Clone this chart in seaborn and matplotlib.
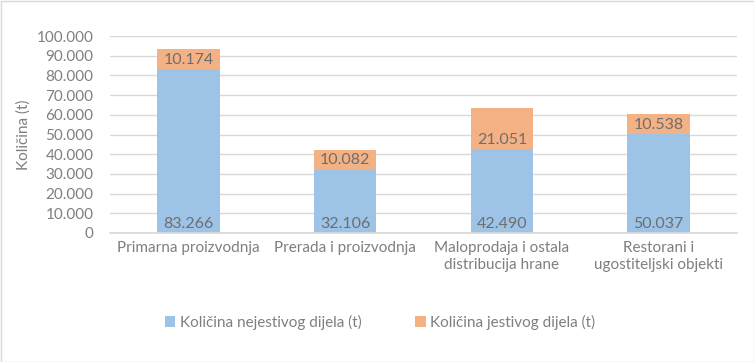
import matplotlib
matplotlib.use("Agg")
import matplotlib.pyplot as plt
import seaborn as sns
import pandas as pd
from matplotlib.patches import Rectangle
from matplotlib.ticker import FuncFormatter

categories = ["Primarna proizvodnja", "Prerada i proizvodnja",
              "Maloprodaja i ostala\ndistribucija hrane",
              "Restorani i\nugostiteljski objekti"]
nejestivo = [83266, 32106, 42490, 50037]
jestivo = [10174, 10082, 21051, 10538]
series_names = ["Količina nejestivog dijela (t)", "Količina jestivog dijela (t)"]

blue = "#9DC3E6"
orange = "#F4B183"
text_gray = "#7F7F7F"

sns.set_theme(style="white")
plt.rcParams["font.family"] = ["Lato", "DejaVu Sans"]

df = pd.DataFrame({"kat": categories, "nej": nejestivo, "jes": jestivo})
df["total"] = df["nej"] + df["jes"]

fig = plt.figure(figsize=(7.54, 3.62), dpi=100)
ax = fig.add_axes([110 / 754, 1 - 233 / 362, 627 / 754, 197 / 362])

# stacked: full total in orange first, blue bottom part drawn over it
sns.barplot(data=df, x="kat", y="total", color=orange, width=0.4,
            saturation=1, ax=ax, label=series_names[1], linewidth=0)
sns.barplot(data=df, x="kat", y="nej", color=blue, width=0.4,
            saturation=1, ax=ax, label=series_names[0], linewidth=0)

def fmt(v):
    return f"{int(v):,}".replace(",", ".")

for i, (n, j) in enumerate(zip(nejestivo, jestivo)):
    ax.text(i, 1200, fmt(n), ha="center", va="bottom", fontsize=11.5, color="#6E6E6E")
    ax.text(i, n + 1200, fmt(j), ha="center", va="bottom", fontsize=11.5, color="#6E6E6E")

ax.set_ylim(0, 100000)
ax.set_yticks(range(0, 100001, 10000))
ax.yaxis.set_major_formatter(FuncFormatter(lambda v, p: fmt(v)))
ax.grid(axis="y", color="#D9D9D9", linewidth=1)
ax.set_axisbelow(True)
for s in ["top", "right", "left"]:
    ax.spines[s].set_visible(False)
ax.spines["bottom"].set_color("#D9D9D9")
ax.tick_params(axis="both", length=0, labelsize=11, colors=text_gray, pad=6)
ax.tick_params(axis="y", pad=12)
ax.set_xlabel("")
ax.set_ylabel("Količina (t)", color=text_gray, fontsize=11)
ax.yaxis.set_label_coords(-0.127, 0.5)

handles, labels = ax.get_legend_handles_labels()
if ax.get_legend() is not None:
    ax.get_legend().remove()
order = [labels.index(series_names[0]), labels.index(series_names[1])]
fig.legend([handles[k] for k in order], [labels[k] for k in order],
           loc="center", bbox_to_anchor=(380 / 754, 1 - 322 / 362), ncol=2,
           frameon=False, fontsize=11, labelcolor=text_gray,
           handlelength=0.7, handleheight=0.7, handletextpad=0.3, columnspacing=3.5)

fig.patches.append(Rectangle((0.5 / 754, 0.5 / 362), 1 - 1 / 754, 1 - 1 / 362,
                             transform=fig.transFigure, fill=False,
                             edgecolor="#D9D9D9", linewidth=1))

fig.savefig("out.png", dpi=100)
